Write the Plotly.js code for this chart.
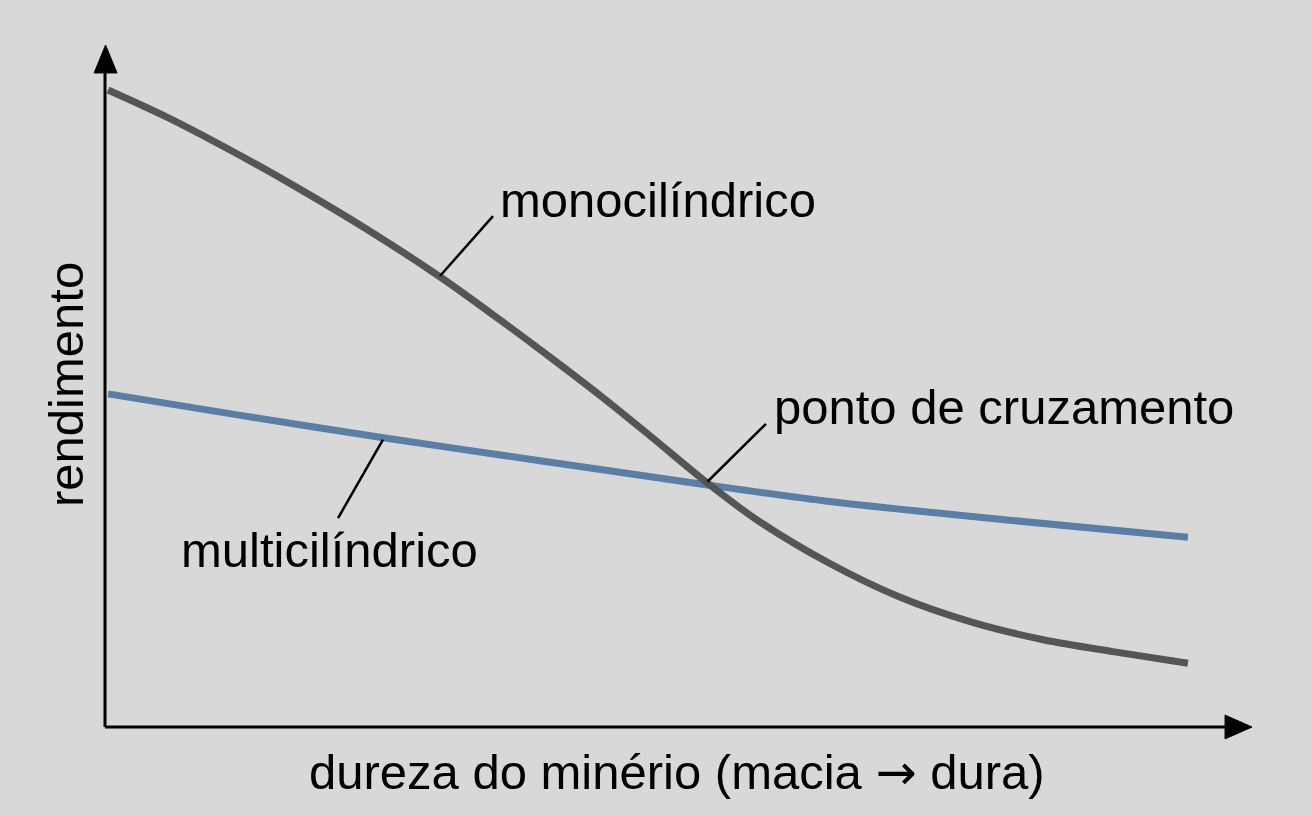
<!DOCTYPE html>
<html>
<head>
<meta charset="utf-8">
<script src="https://cdn.plot.ly/plotly-3.0.1.min.js"></script>
<style>
  html, body { margin: 0; padding: 0; background: #d8d8d8; }
  #chart { width: 1312px; height: 816px; }
</style>
</head>
<body>
<div id="chart"></div>
<script>
// --- Data (arbitrary units) ---
const monoX = [0, 0.55, 1.16, 1.78, 2.40, 3.08, 3.63, 4.09, 4.56, 5.02, 5.55, 6.01, 6.68, 7.33, 7.99, 8.66, 9.32, 10];
const monoY = [10.0, 9.57, 9.03, 8.44, 7.81, 7.06, 6.39, 5.81, 5.20, 4.57, 3.83, 3.25, 2.57, 2.04, 1.65, 1.37, 1.18, 1.0];

const multiX = [0, 1.27, 2.55, 4.0, 5.55, 6.68, 8.32, 10];
const multiY = [5.23, 4.88, 4.54, 4.18, 3.80, 3.54, 3.25, 2.98];

const labels = {
  mono: 'monocilíndrico',
  multi: 'multicilíndrico',
  cross: 'ponto de cruzamento',
  xTitle: 'dureza do minério (macia <span style="font-family:\'DejaVu Sans\'">→</span> dura)',
  yTitle: 'rendimento'
};

const BG = '#d8d8d8';
const FONT = '"Liberation Sans", Arial, sans-serif';
const FS = 49;

const multiTrace = {
  x: multiX, y: multiY,
  mode: 'lines', type: 'scatter', hoverinfo: 'skip',
  line: { color: '#5a7ea5', width: 7, shape: 'spline', smoothing: 0.8 }
};

const monoTrace = {
  x: monoX, y: monoY,
  mode: 'lines', type: 'scatter', hoverinfo: 'skip',
  line: { color: '#555555', width: 7, shape: 'spline', smoothing: 0.9 }
};

// leader lines (data coords) and axes with arrowheads (paper coords)
function leader(x0, y0, x1, y1) {
  return { type: 'line', xref: 'x', yref: 'y', x0: x0, y0: y0, x1: x1, y1: y1,
    line: { color: '#000', width: 2.5 } };
}

const shapes = [
  { type: 'line', xref: 'paper', yref: 'paper', x0: 0, y0: 0, x1: 0, y1: 0.97,
    line: { color: '#000', width: 3 } },
  { type: 'line', xref: 'paper', yref: 'paper', x0: 0, y0: 0, x1: 0.985, y1: 0,
    line: { color: '#000', width: 3 } },
  { type: 'path', xref: 'paper', yref: 'paper',
    path: 'M -0.0095 0.959 L 0.0005 1 L 0.0105 0.959 Z',
    fillcolor: '#000', line: { color: '#000', width: 1 } },
  { type: 'path', xref: 'paper', yref: 'paper',
    path: 'M 0.9765 0.0175 L 1 0 L 0.9765 -0.0175 Z',
    fillcolor: '#000', line: { color: '#000', width: 1 } },
  leader(3.074, 7.08, 3.565, 8.02),
  leader(5.55, 3.85, 6.093, 4.76),
  leader(2.546, 4.51, 2.13, 3.28)
];

function label(text, x, y) {
  return { text: text, x: x, y: y, xref: 'x', yref: 'y', xanchor: 'left', yanchor: 'middle',
    showarrow: false, borderpad: 0, font: { family: FONT, size: FS, color: '#000' } };
}

const annotations = [
  label(labels.mono, 3.62, 8.28),
  label(labels.cross, 6.16, 5.03),
  label(labels.multi, 0.67, 2.78),
  { text: labels.xTitle, xref: 'paper', yref: 'paper', x: 0.4987, y: -0.066,
    xanchor: 'center', yanchor: 'middle', showarrow: false,
    font: { family: FONT, size: FS, color: '#000' } },
  { text: labels.yTitle, xref: 'paper', yref: 'paper', x: -0.034, y: 0.5015,
    xanchor: 'center', yanchor: 'middle', textangle: -90, showarrow: false,
    font: { family: FONT, size: FS, color: '#000' } }
];

const layout = {
  width: 1312, height: 816,
  margin: { l: 105, r: 60, t: 45, b: 89 },
  paper_bgcolor: BG, plot_bgcolor: BG,
  showlegend: false,
  xaxis: { visible: false, range: [-0.028, 10.593], fixedrange: true },
  yaxis: { visible: false, range: [0, 10.706], fixedrange: true },
  shapes: shapes,
  annotations: annotations
};

Plotly.newPlot('chart', [multiTrace, monoTrace], layout, { displayModeBar: false, staticPlot: true });
</script>
</body>
</html>
